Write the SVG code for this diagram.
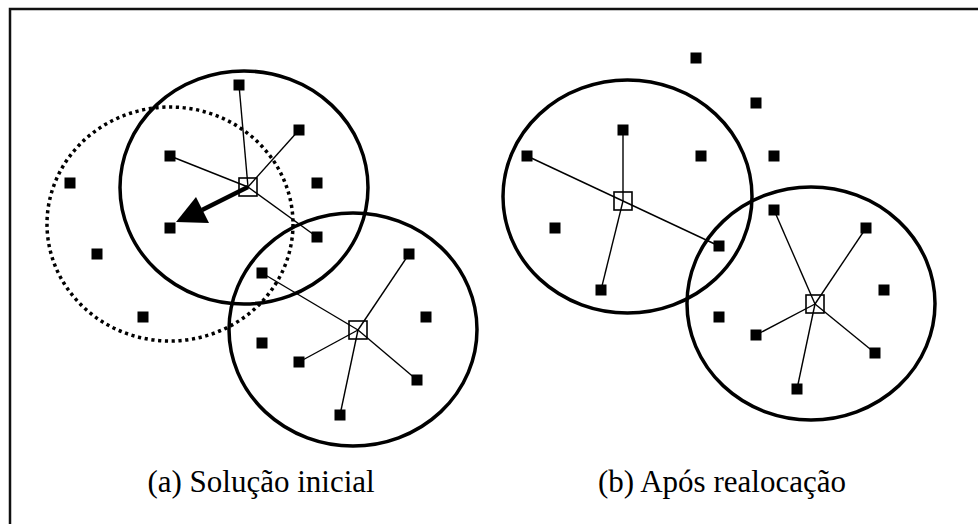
<svg xmlns="http://www.w3.org/2000/svg" width="978" height="524" viewBox="0 0 978 524">
  <defs>
    <style>
      .frame { fill: none; stroke: #111; stroke-width: 2.5; }
      .ring { fill: none; stroke: #000; stroke-width: 3.5; }
      .ring-old { fill: none; stroke: #000; stroke-width: 3.5; stroke-dasharray: 3.2 3.6; }
      .link { fill: none; stroke: #000; stroke-width: 1.4; }
      .move { fill: none; stroke: #000; stroke-width: 4.5; }
      .pt { fill: #000; }
      .hub { fill: none; stroke: #000; stroke-width: 1.6; }
      .cap { font-size: 31px; fill: #000; text-anchor: middle; }
    </style>
    <symbol id="p" overflow="visible"><rect class="pt" x="-5.5" y="-5.5" width="11" height="11"/></symbol>
  </defs>
  <rect width="978" height="524" fill="#fff"/>
  <path class="frame" d="M 10 526 V 9 H 980"/>

  <!-- (a) initial solution -->
  <g id="panel-a">
    <g id="a-regions">
      <ellipse class="ring-old" cx="170" cy="224" rx="123" ry="117"/>
      <ellipse class="ring" cx="244" cy="187.5" rx="124" ry="116.5"/>
      <ellipse class="ring" cx="353" cy="329.5" rx="124" ry="116.5"/>
    </g>
    <g id="a-connectors">
      <line class="link" x1="248" y1="187" x2="239" y2="85"/>
      <line class="link" x1="248" y1="187" x2="299" y2="130"/>
      <line class="link" x1="248" y1="187" x2="170" y2="156"/>
      <line class="link" x1="248" y1="187" x2="317" y2="237"/>
      <line class="link" x1="358" y1="330" x2="262" y2="273"/>
      <line class="link" x1="358" y1="330" x2="409" y2="254"/>
      <line class="link" x1="358" y1="330" x2="299" y2="362"/>
      <line class="link" x1="358" y1="330" x2="417" y2="380"/>
      <line class="link" x1="358" y1="330" x2="340" y2="415"/>
      <line class="move" x1="248" y1="187" x2="202" y2="210"/>
      <polygon class="pt" points="176,222 196,197 209,223"/>
    </g>
    <g id="a-hub-1"><rect class="hub" x="239" y="178" width="18" height="18"/></g>
    <g id="a-hub-2"><rect class="hub" x="349" y="321" width="18" height="18"/></g>
    <g id="a-points">
      <use href="#p" x="239" y="85"/>
      <use href="#p" x="299" y="130"/>
      <use href="#p" x="170" y="156"/>
      <use href="#p" x="70" y="183"/>
      <use href="#p" x="317" y="183"/>
      <use href="#p" x="170" y="228"/>
      <use href="#p" x="317" y="237"/>
      <use href="#p" x="97" y="254"/>
      <use href="#p" x="409" y="254"/>
      <use href="#p" x="262" y="273"/>
      <use href="#p" x="143" y="317"/>
      <use href="#p" x="426" y="317"/>
      <use href="#p" x="262" y="343"/>
      <use href="#p" x="299" y="362"/>
      <use href="#p" x="417" y="380"/>
      <use href="#p" x="340" y="415"/>
    </g>
    <text class="cap" x="261" y="492" font-family="'Liberation Serif', 'Times New Roman', serif">(a) Solução inicial</text>
  </g>

  <!-- (b) after reallocation -->
  <g id="panel-b">
    <g id="b-regions">
      <ellipse class="ring" cx="627.5" cy="196.5" rx="124.5" ry="116.5"/>
      <ellipse class="ring" cx="811" cy="303.5" rx="124" ry="116.5"/>
    </g>
    <g id="b-connectors">
      <line class="link" x1="623" y1="201" x2="623" y2="130"/>
      <line class="link" x1="623" y1="201" x2="527" y2="156"/>
      <line class="link" x1="623" y1="201" x2="719" y2="246"/>
      <line class="link" x1="623" y1="201" x2="601" y2="290"/>
      <line class="link" x1="815" y1="304" x2="774" y2="210"/>
      <line class="link" x1="815" y1="304" x2="866" y2="228"/>
      <line class="link" x1="815" y1="304" x2="756" y2="335"/>
      <line class="link" x1="815" y1="304" x2="875" y2="353"/>
      <line class="link" x1="815" y1="304" x2="797" y2="389"/>
    </g>
    <g id="b-hub-1"><rect class="hub" x="614" y="192" width="18" height="18"/></g>
    <g id="b-hub-2"><rect class="hub" x="806" y="295" width="18" height="18"/></g>
    <g id="b-points">
      <use href="#p" x="696" y="58"/>
      <use href="#p" x="756" y="103"/>
      <use href="#p" x="623" y="130"/>
      <use href="#p" x="527" y="156"/>
      <use href="#p" x="701" y="156"/>
      <use href="#p" x="774" y="156"/>
      <use href="#p" x="774" y="210"/>
      <use href="#p" x="555" y="228"/>
      <use href="#p" x="866" y="228"/>
      <use href="#p" x="719" y="246"/>
      <use href="#p" x="601" y="290"/>
      <use href="#p" x="884" y="290"/>
      <use href="#p" x="719" y="317"/>
      <use href="#p" x="756" y="335"/>
      <use href="#p" x="875" y="353"/>
      <use href="#p" x="797" y="389"/>
    </g>
    <text class="cap" x="722" y="492" font-family="'Liberation Serif', 'Times New Roman', serif">(b) Após realocação</text>
  </g>
</svg>
